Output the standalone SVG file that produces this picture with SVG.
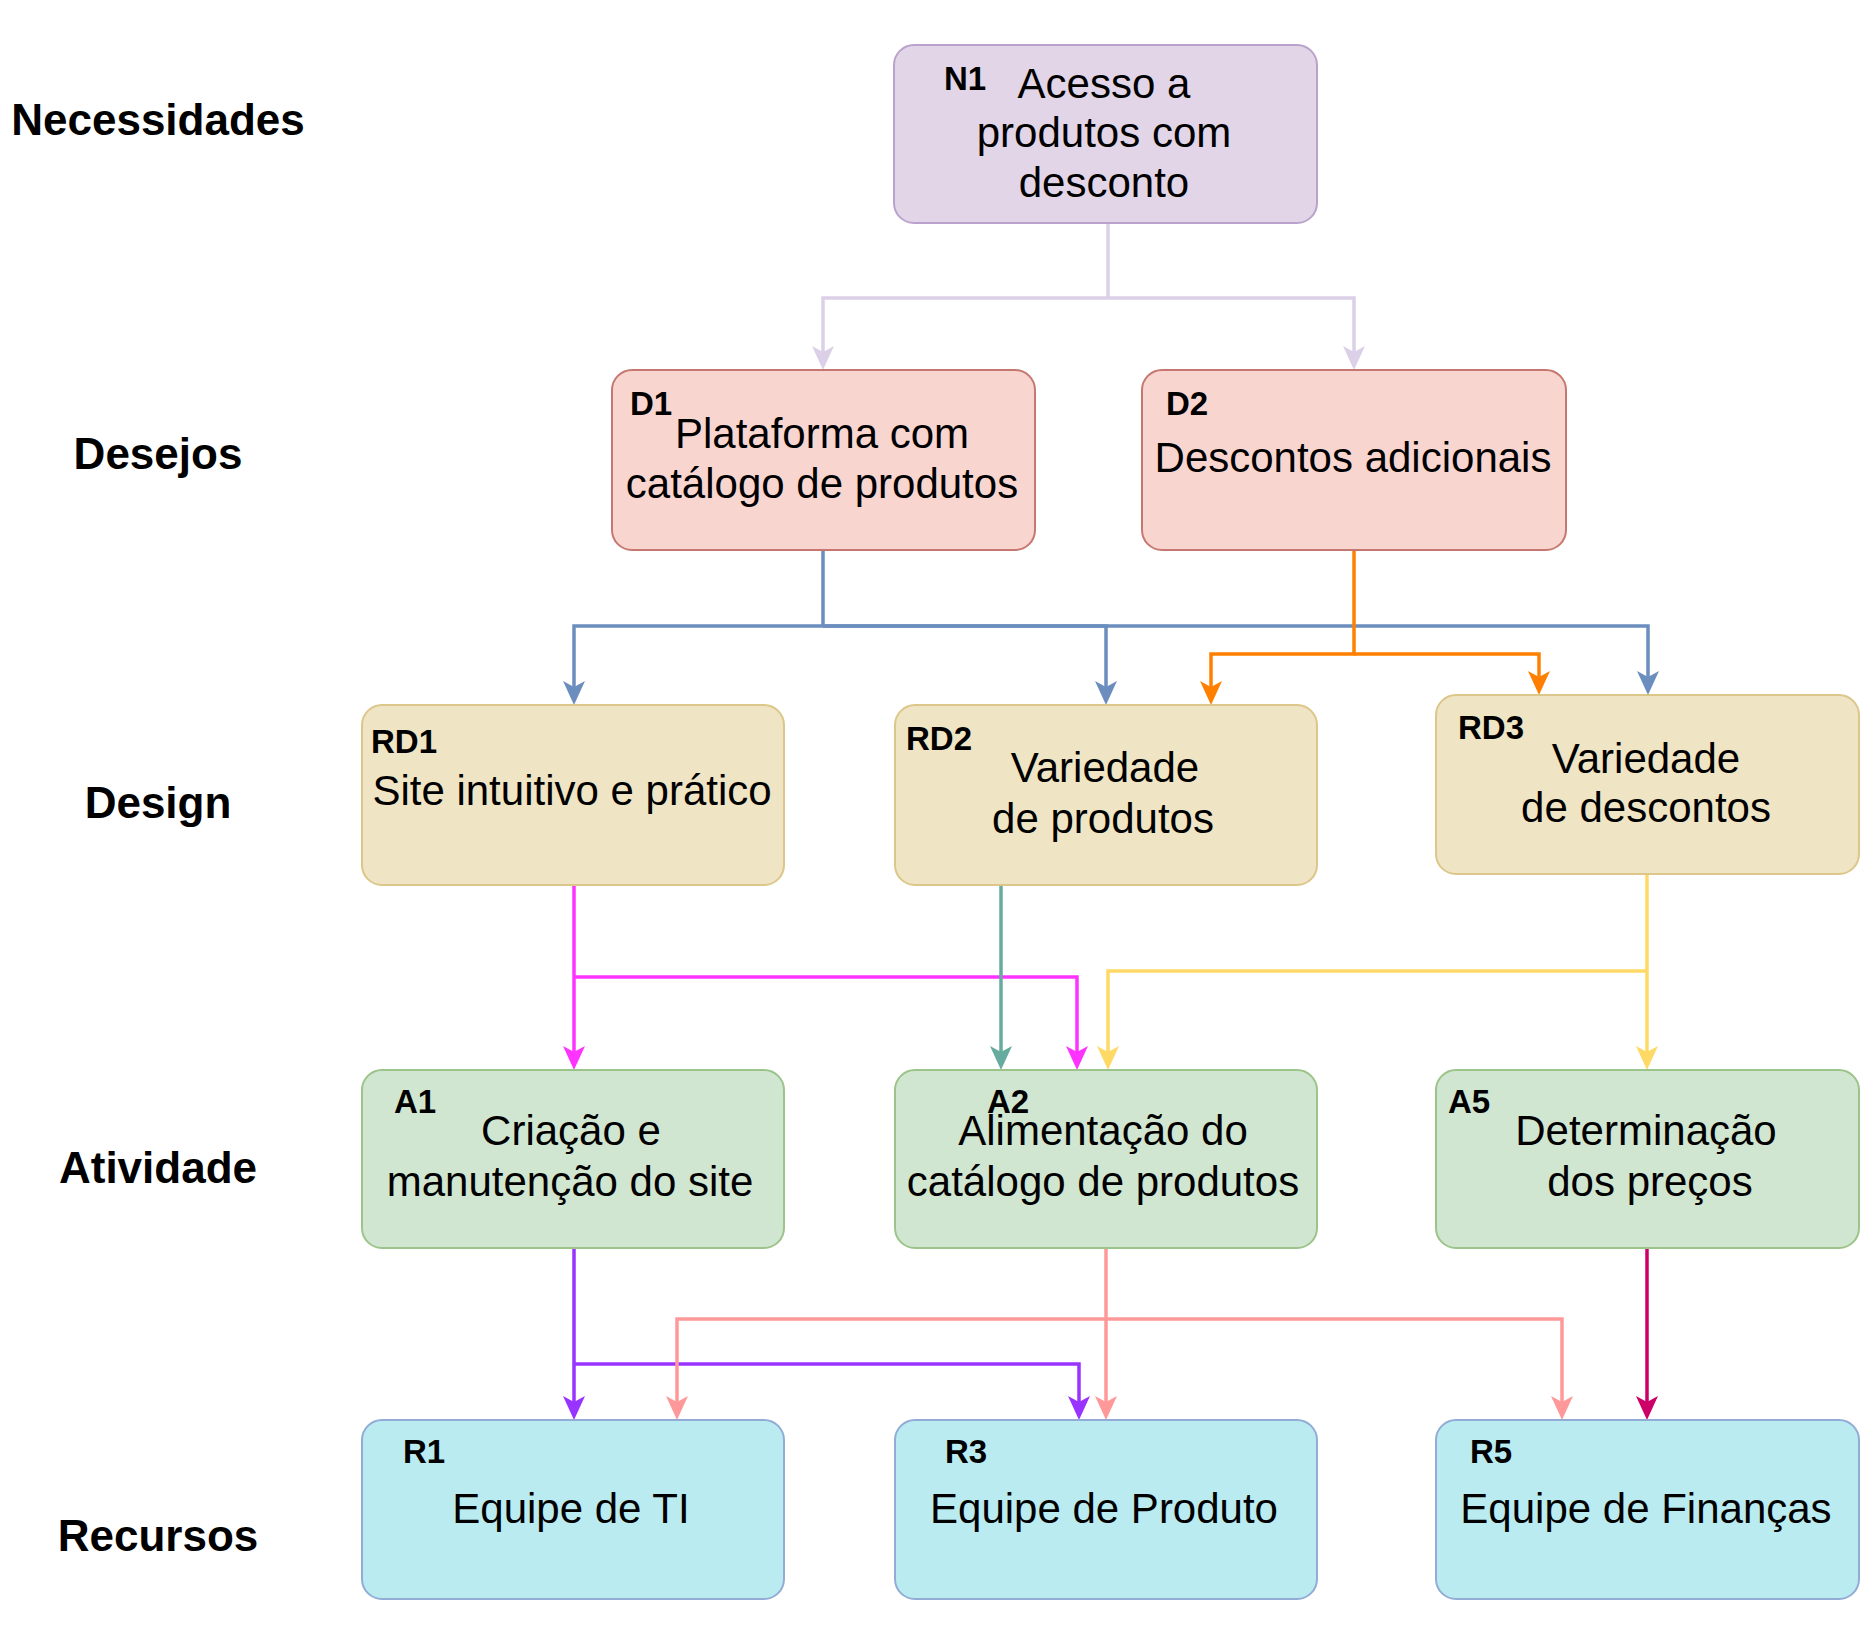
<svg xmlns="http://www.w3.org/2000/svg" width="1874" height="1636" viewBox="0 0 1874 1636">
<style>
.node{stroke-width:2}
.n{fill:#e1d5e7;stroke:#b9a3cc}
.d{fill:#f9d5d0;stroke:#c6776f}
.rd{fill:#efe4c3;stroke:#dcc68a}
.a{fill:#d0e6d0;stroke:#9cc48a}
.r{fill:#b9ebf0;stroke:#93acd6}
text{font-family:"Liberation Sans",Arial,sans-serif;fill:#000}
.t{font-size:42px;text-anchor:middle}
.id{font-size:33px;font-weight:bold}
.row{font-size:44px;font-weight:bold;text-anchor:middle}
.c{fill:none;stroke-width:3.5}
</style>
<defs>
<marker id="m-lav" markerUnits="userSpaceOnUse" markerWidth="24" markerHeight="24" viewBox="0 0 24 24" refX="6" refY="12" orient="auto"><path d="M0,1 L24,12 L0,23 L6,12 Z" fill="#dcd0e8"/></marker>
<marker id="m-blue" markerUnits="userSpaceOnUse" markerWidth="24" markerHeight="24" viewBox="0 0 24 24" refX="6" refY="12" orient="auto"><path d="M0,1 L24,12 L0,23 L6,12 Z" fill="#6c8ebf"/></marker>
<marker id="m-orange" markerUnits="userSpaceOnUse" markerWidth="24" markerHeight="24" viewBox="0 0 24 24" refX="6" refY="12" orient="auto"><path d="M0,1 L24,12 L0,23 L6,12 Z" fill="#ff8000"/></marker>
<marker id="m-mag" markerUnits="userSpaceOnUse" markerWidth="24" markerHeight="24" viewBox="0 0 24 24" refX="6" refY="12" orient="auto"><path d="M0,1 L24,12 L0,23 L6,12 Z" fill="#ff33ff"/></marker>
<marker id="m-teal" markerUnits="userSpaceOnUse" markerWidth="24" markerHeight="24" viewBox="0 0 24 24" refX="6" refY="12" orient="auto"><path d="M0,1 L24,12 L0,23 L6,12 Z" fill="#67ab9f"/></marker>
<marker id="m-yel" markerUnits="userSpaceOnUse" markerWidth="24" markerHeight="24" viewBox="0 0 24 24" refX="6" refY="12" orient="auto"><path d="M0,1 L24,12 L0,23 L6,12 Z" fill="#ffd966"/></marker>
<marker id="m-pur" markerUnits="userSpaceOnUse" markerWidth="24" markerHeight="24" viewBox="0 0 24 24" refX="6" refY="12" orient="auto"><path d="M0,1 L24,12 L0,23 L6,12 Z" fill="#9933ff"/></marker>
<marker id="m-pink" markerUnits="userSpaceOnUse" markerWidth="24" markerHeight="24" viewBox="0 0 24 24" refX="6" refY="12" orient="auto"><path d="M0,1 L24,12 L0,23 L6,12 Z" fill="#ff9999"/></marker>
<marker id="m-crim" markerUnits="userSpaceOnUse" markerWidth="24" markerHeight="24" viewBox="0 0 24 24" refX="6" refY="12" orient="auto"><path d="M0,1 L24,12 L0,23 L6,12 Z" fill="#cc0066"/></marker>
</defs>
<rect width="1874" height="1636" fill="#ffffff"/>

<g id="row-labels">
<text class="row" x="158" y="135">Necessidades</text>
<text class="row" x="158" y="469">Desejos</text>
<text class="row" x="158" y="818">Design</text>
<text class="row" x="158" y="1183">Atividade</text>
<text class="row" x="158" y="1551">Recursos</text>
</g>

<g id="connectors">
<path class="c" stroke="#dcd0e8" d="M1108,223 V298"/>
<path class="c" stroke="#dcd0e8" d="M1108,298 H823 V352" marker-end="url(#m-lav)"/>
<path class="c" stroke="#dcd0e8" d="M1108,298 H1354 V352" marker-end="url(#m-lav)"/>

<path class="c" stroke="#6c8ebf" d="M823,550 V626 H574 V687" marker-end="url(#m-blue)"/>
<path class="c" stroke="#6c8ebf" d="M823,626 H1106 V687" marker-end="url(#m-blue)"/>
<path class="c" stroke="#6c8ebf" d="M823,626 H1648 V677" marker-end="url(#m-blue)"/>

<path class="c" stroke="#ff8000" d="M1354,550 V654 H1211 V687" marker-end="url(#m-orange)"/>
<path class="c" stroke="#ff8000" d="M1354,654 H1539 V677" marker-end="url(#m-orange)"/>

<path class="c" stroke="#ff33ff" d="M574,885 V1052" marker-end="url(#m-mag)"/>
<path class="c" stroke="#ff33ff" d="M574,977 H1077 V1052" marker-end="url(#m-mag)"/>

<path class="c" stroke="#67ab9f" d="M1001,885 V1052" marker-end="url(#m-teal)"/>

<path class="c" stroke="#ffd966" d="M1647,874 V1052" marker-end="url(#m-yel)"/>
<path class="c" stroke="#ffd966" d="M1647,971 H1108 V1052" marker-end="url(#m-yel)"/>

<path class="c" stroke="#9933ff" d="M574,1248 V1402" marker-end="url(#m-pur)"/>
<path class="c" stroke="#9933ff" d="M574,1364 H1079 V1402" marker-end="url(#m-pur)"/>

<path class="c" stroke="#ff9999" d="M1106,1248 V1402" marker-end="url(#m-pink)"/>
<path class="c" stroke="#ff9999" d="M1106,1319 H677 V1402" marker-end="url(#m-pink)"/>
<path class="c" stroke="#ff9999" d="M1106,1319 H1562 V1402" marker-end="url(#m-pink)"/>

<path class="c" stroke="#cc0066" d="M1647,1248 V1402" marker-end="url(#m-crim)"/>
</g>

<g id="N1">
<rect class="node n" x="894" y="45" width="423" height="178" rx="20"/>
<text class="id" x="944" y="90">N1</text>
<text class="t" x="1104" y="98">Acesso a</text>
<text class="t" x="1104" y="147">produtos com</text>
<text class="t" x="1104" y="197">desconto</text>
</g>

<g id="D1">
<rect class="node d" x="612" y="370" width="423" height="180" rx="20"/>
<text class="id" x="630" y="415">D1</text>
<text class="t" x="822" y="448">Plataforma com</text>
<text class="t" x="822" y="498">catálogo de produtos</text>
</g>

<g id="D2">
<rect class="node d" x="1142" y="370" width="424" height="180" rx="20"/>
<text class="id" x="1166" y="415">D2</text>
<text class="t" x="1353" y="472">Descontos adicionais</text>
</g>

<g id="RD1">
<rect class="node rd" x="362" y="705" width="422" height="180" rx="20"/>
<text class="id" x="371" y="753">RD1</text>
<text class="t" x="572" y="805">Site intuitivo e prático</text>
</g>

<g id="RD2">
<rect class="node rd" x="895" y="705" width="422" height="180" rx="20"/>
<text class="id" x="906" y="750">RD2</text>
<text class="t" x="1105" y="782">Variedade</text>
<text class="t" x="1103" y="833">de produtos</text>
</g>

<g id="RD3">
<rect class="node rd" x="1436" y="695" width="423" height="179" rx="20"/>
<text class="id" x="1458" y="739">RD3</text>
<text class="t" x="1646" y="773">Variedade</text>
<text class="t" x="1646" y="822">de descontos</text>
</g>

<g id="A1">
<rect class="node a" x="362" y="1070" width="422" height="178" rx="20"/>
<text class="id" x="394" y="1113">A1</text>
<text class="t" x="571" y="1145">Criação e</text>
<text class="t" x="570" y="1196">manutenção do site</text>
</g>

<g id="A2">
<rect class="node a" x="895" y="1070" width="422" height="178" rx="20"/>
<text class="id" x="987" y="1113">A2</text>
<text class="t" x="1103" y="1145">Alimentação do</text>
<text class="t" x="1103" y="1196">catálogo de produtos</text>
</g>

<g id="A5">
<rect class="node a" x="1436" y="1070" width="423" height="178" rx="20"/>
<text class="id" x="1448" y="1113">A5</text>
<text class="t" x="1646" y="1145">Determinação</text>
<text class="t" x="1650" y="1196">dos preços</text>
</g>

<g id="R1">
<rect class="node r" x="362" y="1420" width="422" height="179" rx="20"/>
<text class="id" x="403" y="1463">R1</text>
<text class="t" x="571" y="1523">Equipe de TI</text>
</g>

<g id="R3">
<rect class="node r" x="895" y="1420" width="422" height="179" rx="20"/>
<text class="id" x="945" y="1463">R3</text>
<text class="t" x="1104" y="1523">Equipe de Produto</text>
</g>

<g id="R5">
<rect class="node r" x="1436" y="1420" width="423" height="179" rx="20"/>
<text class="id" x="1470" y="1463">R5</text>
<text class="t" x="1646" y="1523">Equipe de Finanças</text>
</g>
</svg>
